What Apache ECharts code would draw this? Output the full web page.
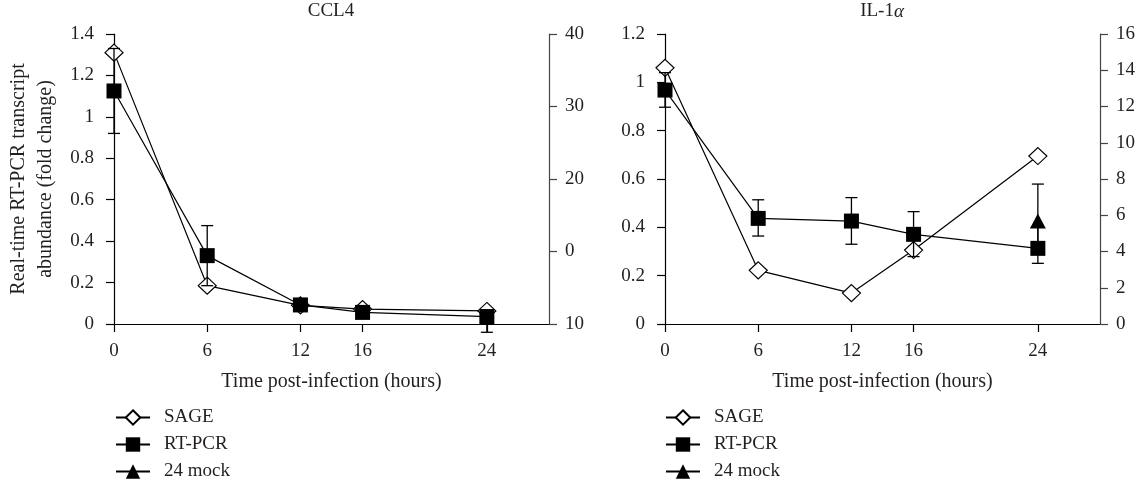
<!DOCTYPE html>
<html><head><meta charset="utf-8">
<script src="https://cdn.jsdelivr.net/npm/echarts@6/dist/echarts.min.js"></script>
<style>html,body{margin:0;padding:0;background:#fff}#c{width:1148px;height:483px}</style>
</head><body><div id="c"></div>
<script>
const hours = [0, 6, 12, 16, 24];
const xTickLabels = [0, 6, 12, 16, 24];
// CCL4
const ccl4Sage = [1.31, 0.185, 0.09, 0.072, 0.063];
const ccl4Rtpcr = [1.125, 0.33, 0.092, 0.056, 0.036];
const ccl4RtpcrLow = [0.92, 0.185, null, null, -0.04];
const ccl4RtpcrHigh = [1.33, 0.475, null, null, 0.06];
const ccl4RightLabels = ['10', '0', '20', '30', '40'];
// IL-1a
const il1aSage = [1.06, 0.222, 0.128, 0.306, 0.695];
const il1aRtpcr = [0.968, 0.437, 0.426, 0.371, 0.313];
const il1aRtpcrLow = [0.897, 0.364, 0.33, 0.279, 0.251];
const il1aRtpcrHigh = [1.04, 0.514, 0.523, 0.465, 0.40];
const il1aMockHour = [24];
const il1aMock = [0.426];
const il1aMockLow = [0.30];
const il1aMockHigh = [0.579];

const FONT = 'Liberation Serif';
const TXT = '#231f20';
const FS = 19;

function pairs(xs, ys) { return xs.map((x, i) => [x, ys[i]]); }
function errData(xs, lo, hi) {
  const out = [];
  xs.forEach((x, i) => { if (lo[i] != null) out.push([x, lo[i], hi[i]]); });
  return out;
}
function errRender(params, api) {
  const x = api.value(0);
  const a = api.coord([x, api.value(1)]);
  const b = api.coord([x, api.value(2)]);
  const w = 6;
  const st = { stroke: '#000', lineWidth: 1.3 };
  return { type: 'group', children: [
    { type: 'line', shape: { x1: a[0], y1: a[1], x2: b[0], y2: b[1] }, style: st },
    { type: 'line', shape: { x1: a[0] - w, y1: a[1], x2: a[0] + w, y2: a[1] }, style: st },
    { type: 'line', shape: { x1: b[0] - w, y1: b[1], x2: b[0] + w, y2: b[1] }, style: st }
  ]};
}
const sageStyle = { symbol: 'diamond', symbolSize: [18, 17], itemStyle: { color: '#fff', borderColor: '#000', borderWidth: 1.2 }, lineStyle: { color: '#000', width: 1.2 } };
const rtStyle = { symbol: 'rect', symbolSize: 15, itemStyle: { color: '#000' }, lineStyle: { color: '#000', width: 1.2 } };

function xAxis(gi) {
  return {
    type: 'value', gridIndex: gi, min: 0, max: 28,
    name: 'Time post-infection (hours)', nameLocation: 'middle', nameGap: 48,
    nameTextStyle: { fontFamily: FONT, fontSize: 20, color: TXT },
    axisLine: { lineStyle: { color: '#000', width: 1.2 } },
    axisTick: { customValues: xTickLabels, length: 8, lineStyle: { color: '#000', width: 1.2 } },
    axisLabel: { customValues: xTickLabels, fontFamily: FONT, fontSize: FS, color: TXT, margin: 18 },
    splitLine: { show: false }
  };
}
function yLeft(gi, max, name) {
  return {
    type: 'value', gridIndex: gi, min: 0, max: max, interval: 0.2, position: 'left',
    name: name, nameLocation: 'middle', nameGap: 55,
    nameTextStyle: { fontFamily: FONT, fontSize: 20, color: TXT, lineHeight: 27 },
    axisLine: { show: true, lineStyle: { color: '#000', width: 1.2 } },
    axisTick: { show: true, length: 8, lineStyle: { color: '#000', width: 1.2 } },
    axisLabel: { fontFamily: FONT, fontSize: FS, color: TXT, margin: 20 },
    splitLine: { show: false }
  };
}
function yRight(gi, min, max, interval, fmt) {
  return {
    type: 'value', gridIndex: gi, min: min, max: max, interval: interval, position: 'right',
    axisLine: { show: true, lineStyle: { color: '#444', width: 1.2 } },
    axisTick: { show: true, length: 8, lineStyle: { color: '#444', width: 1.2 } },
    axisLabel: { fontFamily: FONT, fontSize: FS, color: TXT, margin: 16, formatter: fmt },
    splitLine: { show: false }
  };
}
function legend(left) {
  return { orient: 'vertical', left: left, top: 408, padding: 0, itemWidth: 34, itemHeight: 18, itemGap: 8,
    data: ['SAGE', 'RT-PCR', '24 mock'],
    textStyle: { fontFamily: FONT, fontSize: FS, color: TXT, padding: [0, 0, 0, 9] } };
}

const chart = echarts.init(document.getElementById('c'));
chart.setOption({
  animation: false,
  title: [
    { text: 'CCL4', left: 331, top: 2, padding: 0, textAlign: 'center', textStyle: { fontFamily: FONT, fontSize: FS, fontWeight: 'normal', color: TXT } },
    { text: 'IL-1{a|α}', left: 882, top: 2, padding: 0, textAlign: 'center', textStyle: { fontFamily: FONT, fontSize: FS, fontWeight: 'normal', color: TXT, rich: { a: { fontFamily: FONT, fontSize: FS, fontStyle: 'italic', color: TXT } } } }
  ],
  grid: [
    { left: 114, right: 599, top: 34, height: 290 },
    { left: 665, right: 48, top: 34, height: 290 }
  ],
  legend: [legend(115), legend(665)],
  xAxis: [xAxis(0), xAxis(1)],
  yAxis: [
    yLeft(0, 1.4, 'Real-time RT-PCR transcript\nabundance (fold change)'),
    yRight(0, 0, 4, 1, v => ccl4RightLabels[Math.round(v)]),
    yLeft(1, 1.2, ''),
    yRight(1, 0, 16, 2, v => String(v))
  ],
  series: [
    Object.assign({ name: 'SAGE', type: 'line', xAxisIndex: 0, yAxisIndex: 0, data: pairs(hours, ccl4Sage), z: 3 }, sageStyle),
    Object.assign({ name: 'RT-PCR', type: 'line', xAxisIndex: 0, yAxisIndex: 0, data: pairs(hours, ccl4Rtpcr), z: 4 }, rtStyle),
    { type: 'custom', xAxisIndex: 0, yAxisIndex: 0, renderItem: errRender, data: errData(hours, ccl4RtpcrLow, ccl4RtpcrHigh), encode: { x: 0, y: [1, 2] }, clip: false, z: 5, silent: true },
    Object.assign({ name: 'SAGE', type: 'line', xAxisIndex: 1, yAxisIndex: 2, data: pairs(hours, il1aSage), z: 3 }, sageStyle),
    Object.assign({ name: 'RT-PCR', type: 'line', xAxisIndex: 1, yAxisIndex: 2, data: pairs(hours, il1aRtpcr), z: 4 }, rtStyle),
    { name: '24 mock', type: 'line', xAxisIndex: 1, yAxisIndex: 2, data: pairs(il1aMockHour, il1aMock), symbol: 'triangle', symbolSize: [16, 15], itemStyle: { color: '#000' }, lineStyle: { color: '#000', width: 1.2 }, z: 4 },
    { type: 'custom', xAxisIndex: 1, yAxisIndex: 2, renderItem: errRender, data: errData(hours, il1aRtpcrLow, il1aRtpcrHigh), encode: { x: 0, y: [1, 2] }, clip: false, z: 5, silent: true },
    { type: 'custom', xAxisIndex: 1, yAxisIndex: 2, renderItem: errRender, data: errData(il1aMockHour, il1aMockLow, il1aMockHigh), encode: { x: 0, y: [1, 2] }, clip: false, z: 5, silent: true }
  ]
});
</script></body></html>
